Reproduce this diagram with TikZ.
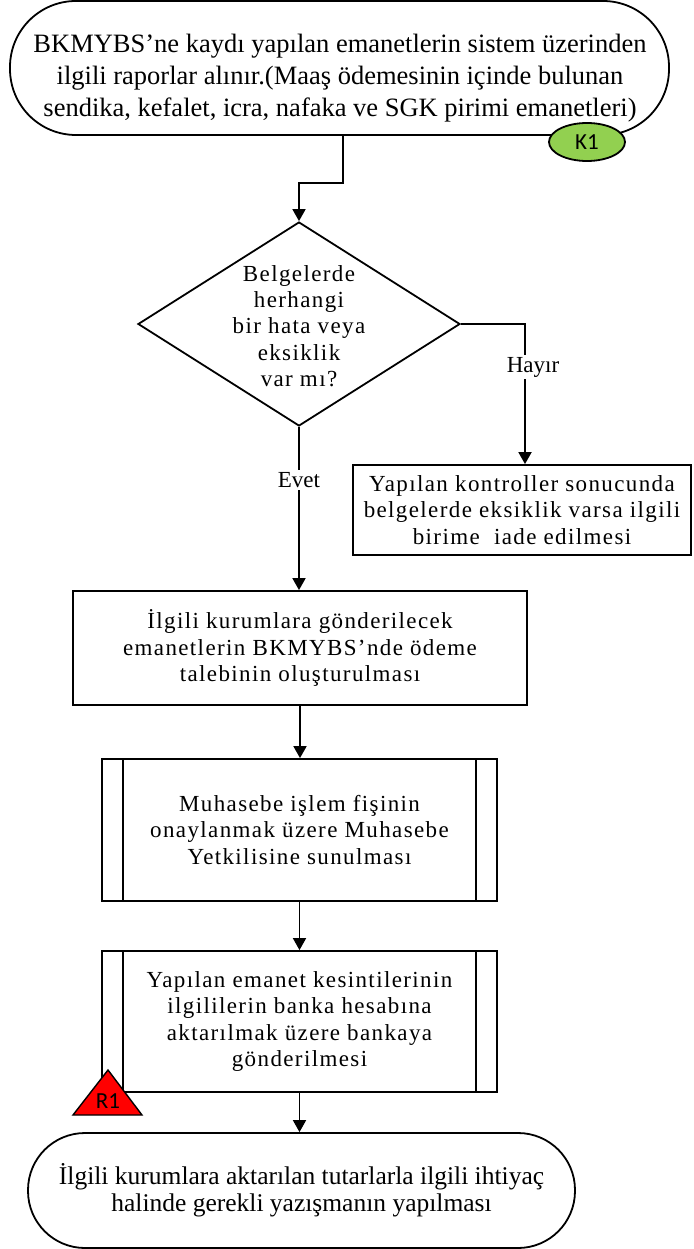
\documentclass[tikz,border=0pt]{standalone}
\usepackage{fontspec}
\setmainfont{Liberation Serif}
\newfontfamily\spc[LetterSpace=6]{Liberation Serif}
\newfontfamily\calfont{Carlito}
\usetikzlibrary{shapes.geometric,arrows.meta}
\definecolor{kgreen}{RGB}{146,208,80}
\definecolor{rred}{RGB}{255,0,0}
\begin{document}
\begin{tikzpicture}[x=1pt,y=-1pt, line width=1.8pt,
  arr/.style={-{Triangle[length=12pt,width=13pt]}},
  procbox/.style={draw, rectangle, inner sep=0pt, align=center, font=\spc\fontsize{23}{26.5}\selectfont},
  termbox/.style={draw, rectangle, inner sep=0pt},
  bigtext/.style={align=center, inner sep=0pt, font=\fontsize{26.5}{32}\selectfont},
  lbl/.style={fill=white, inner sep=2pt, font=\fontsize{23}{26}\selectfont},
  tag/.style={inner sep=0pt, font=\calfont\fontsize{23}{23}\selectfont}]
\useasboundingbox (0,0) rectangle (693,1249);

% top terminator
\node[termbox, rounded corners=66pt, minimum width=659pt, minimum height=134pt] (top) at (339.5,68) {};
\node[bigtext] (toptext) at (340,78) {BKMYBS’ne kaydı yapılan emanetlerin sistem üzerinden\\ilgili raporlar alınır.(Maaş ödemesinin içinde bulunan\\sendika, kefalet, icra, nafaka ve SGK pirimi emanetleri)};
\node[draw, ellipse, fill=kgreen, minimum width=76pt, minimum height=38pt, inner sep=0pt, tag] (k1) at (587,142) {K1};

% decision
\node[draw, diamond, minimum width=322pt, minimum height=204pt, inner sep=0pt] (dia) at (299,324) {};
\node[align=center, inner sep=0pt, font=\spc\fontsize{23}{26.3}\selectfont] (diatext) at (299,326) {Belgelerde\\herhangi\\bir hata veya\\eksiklik\\var mı?};

% right box
\node[procbox, minimum width=338pt, minimum height=90pt] (rbox) at (522,510) {Yapılan kontroller sonucunda\\belgelerde eksiklik varsa ilgili\\birime \ iade edilmesi};

% main boxes
\node[procbox, minimum width=454pt, minimum height=114pt] (box2) at (300,648) {İlgili kurumlara gönderilecek\\emanetlerin BKMYBS’nde ödeme\\talebinin oluşturulması};
\node[procbox, minimum width=395pt, minimum height=142pt] (box3) at (299.5,830) {Muhasebe işlem fişinin\\onaylanmak üzere Muhasebe\\Yetkilisine sunulması};
\draw ([xshift=22pt]box3.north west) -- ([xshift=22pt]box3.south west);
\draw ([xshift=-22pt]box3.north east) -- ([xshift=-22pt]box3.south east);
\node[procbox, minimum width=395pt, minimum height=141pt] (box4) at (299.5,1021.5) {Yapılan emanet kesintilerinin\\ilgililerin banka hesabına\\aktarılmak üzere bankaya\\gönderilmesi};
\draw ([xshift=22pt]box4.north west) -- ([xshift=22pt]box4.south west);
\draw ([xshift=-22pt]box4.north east) -- ([xshift=-22pt]box4.south east);

% bottom terminator
\node[termbox, rounded corners=57pt, minimum width=547pt, minimum height=115pt, align=center, font=\fontsize{25.5}{27}\selectfont] (bot) at (301.5,1190.5) {İlgili kurumlara aktarılan tutarlarla ilgili ihtiyaç\\halinde gerekli yazışmanın yapılması};

% R1 triangle
\coordinate (ra) at (108,1070);
\coordinate (rb) at (73,1115);
\coordinate (rc) at (142,1115);
\filldraw[fill=rred, line width=1.4pt] (ra) -- (rb) -- (rc) -- cycle;
\node[tag] (r1) at (108,1101) {R1};

% connectors
\coordinate (j1) at (343,183);
\draw[arr] (top.south -| j1) -- (j1) -- (j1 -| dia.north) -- (dia.north);
\coordinate (j2) at (525,324);
\draw[arr] (dia.east) -- (j2) -- (j2 |- rbox.north);
\node[lbl] (hayir) at (533,367) {Hayır};
\draw[arr] (dia.south) -- (dia.south |- box2.north);
\node[lbl] (evet) at (299,480) {Evet};
\draw[arr] (box2.south) -- (box2.south |- box3.north);
\draw[arr] (box3.south) -- (box3.south |- box4.north);
\draw[arr] (box4.south) -- (box4.south |- bot.north);
\end{tikzpicture}
\end{document}
